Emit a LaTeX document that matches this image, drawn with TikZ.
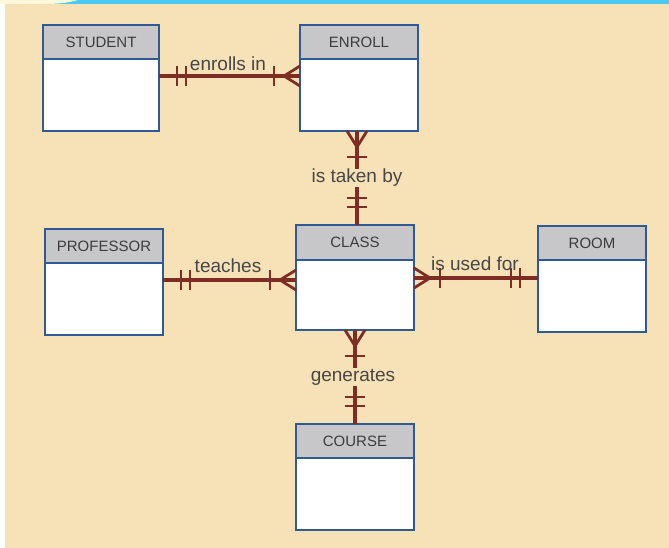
\documentclass[tikz,border=0pt]{standalone}
\usepackage{fontspec}
\setmainfont{Liberation Sans}
\usetikzlibrary{calc}

\definecolor{paper}{HTML}{F6E2B6}
\definecolor{topbar}{HTML}{4AC9F2}
\definecolor{corner}{HTML}{FFF9DC}
\definecolor{frame}{HTML}{2F5A96}
\definecolor{headfill}{HTML}{C7C7C9}
\definecolor{link}{HTML}{7E2D24}
\definecolor{ink}{HTML}{474747}

\tikzset{
  hdr/.style={draw=frame, line width=2pt, fill=headfill, inner sep=0pt, outer sep=0pt,
    font=\fontsize{15}{17}\selectfont, text=ink!85!black},
  bodybox/.style={draw=frame, line width=2pt, fill=white, inner sep=0pt, outer sep=0pt},
  rel/.style={draw=link, line width=3.3pt},
  tick/.style={draw=link, line width=2.8pt},
  lbl/.style={font=\fontsize{19}{21}\selectfont, text=ink, fill=paper,
    inner xsep=1pt, inner ysep=0.5pt}
}

% entity box: name, title, left, top, width, total height, header height
\newcommand\entity[7]{%
  \node[hdr, minimum width=#5, minimum height=#7, anchor=north west] (#1) at (#3,#4) {#2};
  \node[bodybox, minimum width=#5, minimum height=#6-#7, anchor=north] (#1b) at (#1.south) {};
}

% "one and only one" end: #1 point on the entity, #2 the other end
\newcommand\oneend[2]{%
  \coordinate (t1) at ($(#1)!18pt!(#2)$);
  \coordinate (t2) at ($(#1)!27pt!(#2)$);
  \draw[tick] ($(t1)!10pt!90:(#2)$) -- ($(t1)!10pt!-90:(#2)$);
  \draw[tick] ($(t2)!10pt!90:(#2)$) -- ($(t2)!10pt!-90:(#2)$);
}

% "one or many" end: #1 point on the entity, #2 the other end
\newcommand\manyend[2]{%
  \coordinate (c0) at ($(#1)!16pt!(#2)$);
  \coordinate (c1) at ($(#1)!26pt!(#2)$);
  \draw[tick] ($(#1)!10pt!90:(#2)$) -- (c0) -- ($(#1)!10pt!-90:(#2)$);
  \draw[tick] (c0) -- (#1);
  \draw[tick] ($(c1)!10pt!90:(#2)$) -- ($(c1)!10pt!-90:(#2)$);
}

\begin{document}
\begin{tikzpicture}[x=1pt, y=-1pt]
  % page
  \fill[white] (0,0) rectangle (669,548);
  \fill[paper] (5,4) rectangle (669,548);
  \fill[topbar] (0,0) rectangle (669,4);
  \fill[corner] (0,0) -- (78,0) .. controls (66,3) .. (50,4) -- (0,4) -- cycle;
  \useasboundingbox (0,0) rectangle (669,548);

  % entities
  \entity{student}{STUDENT}{43}{25}{116}{106}{34}
  \entity{enroll}{ENROLL}{300}{25}{118}{106}{34}
  \entity{professor}{PROFESSOR}{45}{229}{118}{106}{34}
  \entity{class}{CLASS}{296}{225}{118}{105}{35}
  \entity{room}{ROOM}{538}{226}{108}{106}{34}
  \entity{course}{COURSE}{296}{424}{118}{106}{34}

  % STUDENT -- ENROLL
  \coordinate (a1) at ($(studentb.north east)+(0,17)$);
  \coordinate (a2) at (enrollb.west |- a1);
  \draw[rel] (a1) -- (a2);
  \oneend{a1}{a2}
  \manyend{a2}{a1}
  \node[lbl] (l1) at (228,64) {enrolls in};

  % ENROLL -- CLASS
  \coordinate (b1) at ($(enrollb.south)+(-2,0)$);
  \coordinate (b2) at ($(class.north)+(2,0)$);
  \draw[rel] (b1) -- (b2);
  \manyend{b1}{b2}
  \oneend{b2}{b1}
  \node[lbl] (l2) at (357,178) {is taken by};

  % PROFESSOR -- CLASS
  \coordinate (p1) at ($(professorb.north east)+(0,17)$);
  \coordinate (p2) at (classb.west |- p1);
  \draw[rel] (p1) -- (p2);
  \oneend{p1}{p2}
  \manyend{p2}{p1}
  \node[lbl] (l3) at (228,266) {teaches};

  % CLASS -- ROOM
  \coordinate (r1) at ($(classb.north east)+(0,18)$);
  \coordinate (r2) at (roomb.west |- r1);
  \draw[rel] (r1) -- (r2);
  \manyend{r1}{r2}
  \oneend{r2}{r1}
  \node[lbl, fill=none] (l4) at (475,264) {is used for};

  % CLASS -- COURSE
  \coordinate (g1) at (classb.south);
  \coordinate (g2) at (course.north);
  \draw[rel] (g1) -- (g2);
  \manyend{g1}{g2}
  \oneend{g2}{g1}
  \node[lbl] (l5) at (353,377) {generates};
\end{tikzpicture}
\end{document}
